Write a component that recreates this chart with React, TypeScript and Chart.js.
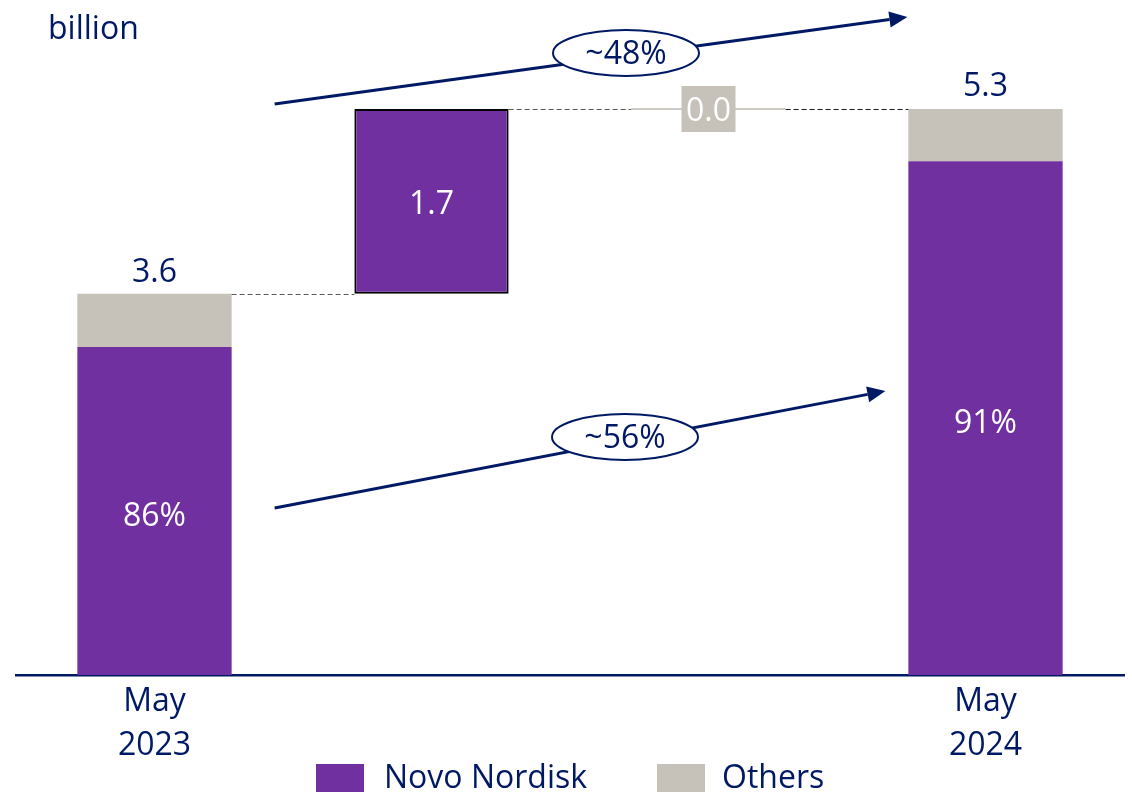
import React, { useEffect, useRef } from "react";
import { Chart, registerables } from "chart.js";

Chart.register(...registerables);

// ---- data ----
const categories: (string | string[])[] = [["May", "2023"], "", "", ["May", "2024"]];
const seriesNames = ["Novo Nordisk", "Others"];
const totals = [3.57, 5.3]; // May 2023, May 2024 (billion)
const novoPart = [3.07, 4.81]; // Novo Nordisk portion of each total
const changes = [1.73, 0.0]; // Novo Nordisk change, Others change
const growthLabels = ["~48%", "~56%"]; // total growth, Novo Nordisk growth
const unitLabel = "billion";

const NAVY = "#001965";
const PURPLE = "#7030A0";
const GRAY = "#C6C1B9";
const FONT = "'Open Sans', 'Noto Sans', sans-serif";
const FS = 32;

const afterTop = totals[0] + changes[0];
const novoData = [[0, novoPart[0]], [totals[0], afterTop], null, [0, novoPart[1]]];
const othersData = [[novoPart[0], totals[0]], null, [afterTop, afterTop + changes[1]], [novoPart[1], totals[1]]];

const overlay = {
  id: "overlay",
  afterDatasetsDraw(chart: any) {
    const ctx = chart.ctx as CanvasRenderingContext2D;
    const ys = chart.scales.y;
    const mN = chart.getDatasetMeta(0);
    const mO = chart.getDatasetMeta(1);
    const b0 = mN.data[0], b1 = mN.data[1], b2 = mO.data[2], b3 = mN.data[3];
    const L = (b: any) => b.x - b.width / 2;
    const R = (b: any) => b.x + b.width / 2;
    ctx.save();

    // connectors
    const dashed = (x1: number, x2: number, yy: number, col: string) => {
      ctx.beginPath();
      ctx.setLineDash([5, 3]);
      ctx.strokeStyle = col;
      ctx.lineWidth = 1.2;
      ctx.moveTo(x1, Math.round(yy) + 0.5);
      ctx.lineTo(x2, Math.round(yy) + 0.5);
      ctx.stroke();
      ctx.setLineDash([]);
    };
    const y0 = ys.getPixelForValue(totals[0]);
    const y1 = ys.getPixelForValue(afterTop);
    const y2 = ys.getPixelForValue(afterTop + changes[1]);
    dashed(R(b0), L(b1), y0, "#5a5a5a");
    dashed(R(b1), L(b2), y1, "#5a5a5a");
    dashed(R(b2), L(b3), y2, "#1a1a1a");
    // zero-height others change bar
    ctx.beginPath();
    ctx.strokeStyle = "#BDB8B0";
    ctx.lineWidth = 1.5;
    ctx.moveTo(L(b2), y2);
    ctx.lineTo(R(b2), y2);
    ctx.stroke();

    ctx.textAlign = "center";
    ctx.textBaseline = "alphabetic";
    ctx.font = `${FS}px ${FONT}`;

    // totals above bars
    ctx.fillStyle = NAVY;
    ctx.fillText(totals[0].toFixed(1), b0.x, ys.getPixelForValue(totals[0]) - 12);
    ctx.fillText(totals[1].toFixed(1), b3.x, ys.getPixelForValue(totals[1]) - 13);

    // change labels
    ctx.fillStyle = "#FFFFFF";
    ctx.fillText(changes[0].toFixed(1), b1.x, (y0 + y1) / 2 + 13);
    ctx.fillStyle = GRAY;
    ctx.fillRect(b2.x - 27, y2 - 23, 54, 46);
    ctx.fillStyle = "#FFFFFF";
    ctx.fillText(changes[1].toFixed(1), b2.x, y2 + 12);

    // share labels
    const zero = ys.getPixelForValue(0);
    [0, 1].forEach((i) => {
      const b = i === 0 ? b0 : b3;
      const top = ys.getPixelForValue(novoPart[i]);
      ctx.fillText(Math.round((novoPart[i] / totals[i]) * 100) + "%", b.x, (top + zero) / 2 + 15);
    });

    // growth arrows
    const arrow = (x1: number, yA: number, x2: number, yB: number, cx: number, cy: number, label: string) => {
      ctx.strokeStyle = NAVY;
      ctx.fillStyle = NAVY;
      ctx.lineWidth = 3;
      const ang = Math.atan2(yB - yA, x2 - x1);
      const hl = 18, hw = 8;
      const bx = x2 - hl * Math.cos(ang), by = yB - hl * Math.sin(ang);
      ctx.beginPath();
      ctx.moveTo(x1, yA);
      ctx.lineTo(bx, by);
      ctx.stroke();
      ctx.beginPath();
      ctx.moveTo(x2, yB);
      ctx.lineTo(bx + hw * Math.sin(ang), by - hw * Math.cos(ang));
      ctx.lineTo(bx - hw * Math.sin(ang), by + hw * Math.cos(ang));
      ctx.closePath();
      ctx.fill();
      ctx.beginPath();
      ctx.ellipse(cx, cy, 73, 23, 0, 0, Math.PI * 2);
      ctx.fillStyle = "#FFFFFF";
      ctx.fill();
      ctx.lineWidth = 2;
      ctx.stroke();
      ctx.fillStyle = NAVY;
      ctx.fillText(label, cx, cy + 11);
    };
    arrow(R(b0) + 43, 104, L(b3) - 1, 17, 626, 53, growthLabels[0]);
    arrow(R(b0) + 43, 508, L(b3) - 23, 391, 625, 437, growthLabels[1]);

    // unit label
    ctx.textAlign = "left";
    ctx.fillStyle = NAVY;
    ctx.fillText(unitLabel, 48, 39);

    // legend
    const items = [
      { x: 316, tx: 384, color: PURPLE, name: seriesNames[0] },
      { x: 657, tx: 722, color: GRAY, name: seriesNames[1] },
    ];
    items.forEach((it) => {
      ctx.fillStyle = it.color;
      ctx.fillRect(it.x, 764, 48, 30);
      ctx.fillStyle = NAVY;
      ctx.fillText(it.name, it.tx, 788);
    });
    ctx.restore();
  },
};

export default function App() {
  const ref = useRef<HTMLCanvasElement | null>(null);
  useEffect(() => {
    document.body.style.margin = "0";
    if (!ref.current) return;
    const chart = new Chart(ref.current, {
      type: "bar",
      data: {
        labels: categories as any,
        datasets: [
          {
            label: seriesNames[0],
            data: novoData as any,
            backgroundColor: PURPLE,
            borderColor: "#000000",
            borderWidth: [0, 2, 0, 0] as any,
            borderSkipped: false,
            grouped: false,
            barPercentage: 0.557,
            categoryPercentage: 1,
          },
          {
            label: seriesNames[1],
            data: othersData as any,
            backgroundColor: GRAY,
            borderWidth: 0,
            grouped: false,
            barPercentage: 0.557,
            categoryPercentage: 1,
          },
        ],
      },
      options: {
        responsive: false,
        animation: false,
        devicePixelRatio: 1,
        layout: { padding: { left: 16, right: 8, top: 0, bottom: 0 } },
        plugins: { legend: { display: false }, tooltip: { enabled: false } },
        scales: {
          x: {
            grid: { display: false, drawTicks: false },
            border: { display: true, color: NAVY, width: 2.5 },
            ticks: {
              color: NAVY,
              font: { family: FONT, size: FS, lineHeight: 1.4 },
              padding: 4,
              maxRotation: 0,
              autoSkip: false,
            },
            afterFit: (s: any) => {
              s.height = 117;
            },
          },
          y: { display: false, min: 0, max: 675 / 106.8 },
        },
      },
      plugins: [overlay],
    });
    return () => chart.destroy();
  }, []);
  return <canvas ref={ref} width={1132} height={792} style={{ display: "block" }} />;
}
